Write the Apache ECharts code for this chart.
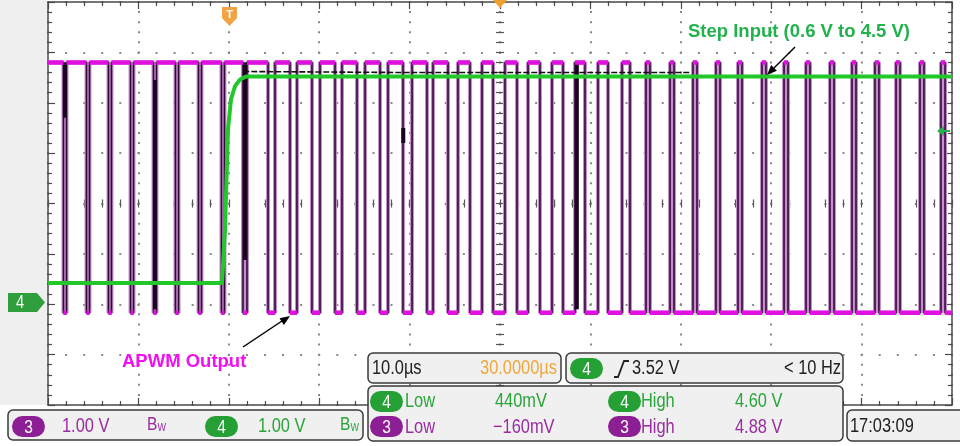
<!DOCTYPE html>
<html><head><meta charset="utf-8">
<script src="https://cdn.jsdelivr.net/npm/echarts@6/dist/echarts.min.js"></script>
<style>html,body{margin:0;padding:0;background:#fff;}#c{width:960px;height:446px;}</style>
</head><body><div id="c"></div>
<script>
// ---- scales (oscilloscope graticule: 10 µs/div, 1 V/div) ----
const timeMin = 0, timeMax = 100, timeDiv = 10;   // µs
const voltMin = -2, voltMax = 6, voltDiv = 1;      // V

// ---- channel 3 : APWM output (levels and toggle times in µs, starting high) ----
const pwmHigh = 4.8, pwmLow = -0.17;
const pwmEdges = [1.71, 2.05, 4.26, 4.59, 6.69, 7.02, 9.13, 9.46, 11.67, 12.00, 14.10, 14.44,
  16.65, 16.98, 19.19, 19.52, 21.57, 22.01, 24.34, 25.11, 26.77, 27.54, 29.20, 30.09,
  31.75, 32.52, 34.18, 35.07, 36.73, 37.61, 39.27, 40.27, 41.92, 42.59, 44.25, 45.35,
  46.68, 48.01, 49.23, 50.55, 51.88, 53.10, 54.42, 55.75, 56.97, 58.30, 59.40, 60.84,
  61.95, 63.50, 64.38, 66.15, 66.59, 68.81, 69.25, 71.35, 71.79, 73.89, 74.34, 76.33,
  76.77, 78.98, 79.42, 81.42, 81.86, 83.85, 84.29, 86.50, 86.95, 88.94, 89.38, 91.48,
  91.92, 93.81, 94.25, 96.46, 96.90, 98.78, 99.23];

// ---- channel 4 : step input ----
const stepTime = [0, 19.25, 19.58, 19.91, 20.24, 20.69, 21.24, 21.9, 100];
const stepVolt = [0.42, 0.42, 1.49, 3.47, 4.07, 4.33, 4.46, 4.52, 4.52];

// ---- persistence (earlier acquisition) traces ----
const ghostTime = [21.6, 40, 71];
const ghostVolt = [4.62, 4.6, 4.6];
const burstTime = [1.88, 11.84, 21.8, 39.3, 58.5];
const burstTop = [4.8, 4.45, 4.8, 3.5, 4.8];
const burstBottom = [3.7, -0.1, 0.88, 3.2, -0.1];

// ---- build series data ----
const pwmPts = [[timeMin, pwmHigh]], pwmLevels = [];
let lvl = pwmHigh, segStart = timeMin;
pwmEdges.forEach(t => {
  pwmPts.push([t, lvl]);
  pwmLevels.push([segStart, lvl], [t, lvl], [t, '-']);
  lvl = (lvl === pwmHigh) ? pwmLow : pwmHigh;
  pwmPts.push([t, lvl]);
  segStart = t;
});
pwmPts.push([timeMax, lvl]);
pwmLevels.push([segStart, lvl], [timeMax, lvl]);
const stepPts = stepTime.map((t, i) => [t, stepVolt[i]]);
const ghostPts = ghostTime.map((t, i) => [t, ghostVolt[i]]);
const burstPts = [];
burstTime.forEach((t, i) => { burstPts.push([t, burstTop[i]], [t, burstBottom[i]], [t, '-']); });

const SANS = '"Liberation Sans",Arial,sans-serif';
const NX = 0.82; // horizontal squeeze to mimic the scope's narrow UI font
const ZT = 60;   // overlays sit above the graticule and traces
const BORDER = '#4a4a4a', DOT = '#8a8a8a';
const PURPLE = '#9a2ca2', GREEN = '#2aa53a', PILLP = '#8c1f94', PILLG = '#24a034', ORANGE = '#f0a83a';

const xr = { type: 'value', min: timeMin, max: timeMax, interval: timeDiv };
const yr = { type: 'value', min: voltMin, max: voltMax, interval: voltDiv };
const noLbl = { show: false };
function borderAxis(base, pos, grid, split, dashSeg) {
  return Object.assign({}, base, {
    gridIndex: grid, position: pos,
    axisLine: { show: true, onZero: false, lineStyle: { color: BORDER, width: 1.5 } },
    axisTick: { show: true, inside: true, length: 7, lineStyle: { color: BORDER, width: 1.2 } },
    minorTick: { show: true, splitNumber: 5, length: 4, lineStyle: { color: BORDER, width: 1.2 } },
    axisLabel: noLbl,
    splitLine: split ? { show: true, lineStyle: { color: DOT, width: 2, type: dashSeg, dashOffset: 1 } } : { show: false }
  });
}
function centerAxis(base, pos, grid) {
  return Object.assign({}, base, {
    gridIndex: grid, position: pos,
    axisLine: { show: false, onZero: false },
    axisTick: { show: true, inside: true, length: 4, lineStyle: { color: '#555', width: 1.2 } },
    minorTick: { show: true, splitNumber: 5, length: 4, lineStyle: { color: '#555', width: 1.2 } },
    axisLabel: noLbl, splitLine: { show: false }
  });
}
function hiddenAxis(base, grid) { return Object.assign({}, base, { gridIndex: grid, show: false, axisLine: { onZero: false } }); }

const pill = (x, y, w, h, color, label) => ([
  { type: 'rect', z: ZT + 1, shape: { x, y, width: w, height: h, r: h / 2 }, style: { fill: color } },
  { type: 'text', z: ZT + 2, x: x + w / 2, y: y + h / 2 + 1, scaleX: NX, style: { text: label, fill: '#fff', fontSize: 19, fontFamily: SANS, align: 'center', verticalAlign: 'middle' } }
]);
const txt = (x, y, s, color, extra) => ({ type: 'text', z: ZT + 2, x, y, scaleX: NX, style: Object.assign({ text: s, fill: color, fontSize: 20, fontFamily: SANS, verticalAlign: 'middle' }, extra || {}) });
const box = (x, y, w, h) => ({ type: 'rect', z: ZT, shape: { x, y, width: w, height: h, r: 5 }, style: { fill: '#f0f0f0', stroke: '#3a3a3a', lineWidth: 1.5 } });
const bw = (x, y, color) => ({ type: 'text', z: ZT + 2, x, y, scaleX: NX, style: { text: '{b|B}{w|W}', fill: color, verticalAlign: 'middle', rich: { b: { fontSize: 19, fontFamily: SANS, fill: color }, w: { fontSize: 11, fontFamily: SANS, fill: color, padding: [6, 0, 0, 0] } } } });

const chart = echarts.init(document.getElementById('c'), null, { renderer: 'canvas' });
chart.setOption({
  animation: false,
  backgroundColor: '#ffffff',
  grid: [
    { left: 48, top: 2, width: 904, height: 403 },
    { left: 48, top: 2, width: 452, height: 403 },
    { left: 500, top: 2, width: 452, height: 403 },
    { left: 48, top: 2, width: 904, height: 201.5 },
    { left: 48, top: 203.5, width: 904, height: 201.5 }
  ],
  xAxis: [
    borderAxis(xr, 'bottom', 0, true, [2, 8.075]),
    borderAxis(xr, 'top', 0, false),
    hiddenAxis(xr, 1),
    hiddenAxis(xr, 2),
    centerAxis(xr, 'bottom', 3),
    centerAxis(xr, 'top', 4)
  ],
  yAxis: [
    borderAxis(yr, 'left', 0, true, [2, 16.08]),
    borderAxis(yr, 'right', 0, false),
    centerAxis(yr, 'right', 1),
    centerAxis(yr, 'left', 2),
    hiddenAxis(yr, 3),
    hiddenAxis(yr, 4)
  ],
  series: [
    { type: 'line', name: 'APWM halo', data: pwmPts, symbol: 'none', silent: true, z: 2, lineStyle: { color: '#c28ec8', width: 4 } },
    { type: 'line', name: 'APWM Output', data: pwmPts, symbol: 'none', silent: true, z: 3, lineStyle: { color: '#35083c', width: 1.6 } },
    { type: 'line', name: 'burst', data: burstPts, symbol: 'none', silent: true, z: 4, connectNulls: false, lineStyle: { color: '#1a0420', width: 4 } },
    { type: 'line', name: 'APWM levels', data: pwmLevels, symbol: 'none', silent: true, z: 5, connectNulls: false, lineStyle: { color: '#e010e0', width: 4.5, cap: 'butt' } },
    { type: 'line', name: 'ghost', data: ghostPts, symbol: 'none', silent: true, z: 6, lineStyle: { color: '#111', width: 1.6, type: [6, 2] } },
    { type: 'line', name: 'Step Input', data: stepPts, symbol: 'none', silent: true, z: 7, lineStyle: { color: '#22c82a', width: 4 } }
  ],
  graphic: [
    { type: 'rect', z: -10, shape: { x: 0, y: 0, width: 47, height: 405 }, style: { fill: '#efefef' } },
    // trigger position markers
    { type: 'polygon', z: ZT, shape: { points: [[222, 7], [237, 7], [237, 18], [229.5, 26], [222, 18]] }, style: { fill: '#f2a444' } },
    { type: 'text', z: ZT + 1, x: 229.5, y: 15, style: { text: 'T', fill: '#fff', fontSize: 11, fontWeight: 'bold', fontFamily: SANS, align: 'center', verticalAlign: 'middle' } },
    { type: 'polygon', z: ZT, shape: { points: [[493, 0], [507, 0], [500, 8]] }, style: { fill: '#f0a030' } },
    // channel 4 ground marker
    { type: 'polygon', z: ZT, shape: { points: [[8, 293], [37, 293], [45, 302.5], [37, 312], [8, 312]] }, style: { fill: '#2f9e3c' } },
    { type: 'text', z: ZT + 1, x: 20, y: 303, scaleX: NX, style: { text: '4', fill: '#fff', fontSize: 18, fontFamily: SANS, align: 'center', verticalAlign: 'middle' } },
    // trigger level marker
    { type: 'polygon', z: ZT, shape: { points: [[937, 131], [944, 126], [944, 136]] }, style: { fill: '#22b14c' } },
    { type: 'line', z: ZT, shape: { x1: 943, y1: 131, x2: 950, y2: 131 }, style: { stroke: '#22b14c', lineWidth: 2 } },
    // annotations
    { type: 'text', z: ZT, x: 688, y: 32, style: { text: 'Step Input (0.6 V to 4.5 V)', fill: '#22b14c', fontSize: 18.5, fontWeight: 'bold', fontFamily: SANS, verticalAlign: 'middle' } },
    { type: 'line', z: ZT, shape: { x1: 795, y1: 47, x2: 774, y2: 68 }, style: { stroke: '#000', lineWidth: 1.5 } },
    { type: 'polygon', z: ZT, shape: { points: [[767, 75], [776.9, 70.7], [771.2, 65.1]] }, style: { fill: '#000' } },
    { type: 'text', z: ZT, x: 122, y: 362, style: { text: 'APWM Output', fill: '#f010f0', fontSize: 18.5, fontWeight: 'bold', fontFamily: SANS, verticalAlign: 'middle' } },
    { type: 'line', z: ZT, shape: { x1: 243, y1: 347, x2: 282, y2: 321 }, style: { stroke: '#000', lineWidth: 1.5 } },
    { type: 'polygon', z: ZT, shape: { points: [[290, 316], [283.9, 324.9], [279.5, 318.2]] }, style: { fill: '#000' } },
    // status bar
    box(8, 410, 355, 30),
    ...pill(12, 416, 33, 21, PILLP, '3'),
    txt(62, 426, '1.00 V', PURPLE),
    bw(147, 425, PURPLE),
    ...pill(205, 416, 33, 21, PILLG, '4'),
    txt(258, 426, '1.00 V', GREEN),
    bw(340, 425, GREEN),
    box(368, 353, 193, 30),
    txt(372, 368, '10.0µs', '#222'),
    txt(557, 368, '30.0000µs', ORANGE, { align: 'right' }),
    box(566, 353, 277, 30),
    ...pill(570, 358, 33, 21, PILLG, '4'),
    { type: 'polyline', z: ZT + 2, shape: { points: [[614, 377], [618, 377], [624, 361], [629, 361]] }, style: { stroke: '#222', lineWidth: 1.8, fill: null } },
    txt(632, 368, '3.52 V', '#222'),
    txt(841, 368, '< 10 Hz', '#222', { align: 'right' }),
    box(368, 386, 475, 55),
    ...pill(370, 391, 33, 21, PILLG, '4'),
    txt(405, 401, 'Low', GREEN),
    txt(495, 401, '440mV', GREEN),
    ...pill(608, 391, 33, 21, PILLG, '4'),
    txt(641, 401, 'High', GREEN),
    txt(735, 401, '4.60 V', GREEN),
    ...pill(370, 416, 33, 21, PILLP, '3'),
    txt(405, 427, 'Low', PURPLE),
    txt(493, 427, '−160mV', PURPLE),
    ...pill(608, 416, 33, 21, PILLP, '3'),
    txt(641, 427, 'High', PURPLE),
    txt(735, 427, '4.88 V', PURPLE),
    box(847, 410, 120, 31),
    txt(850, 426, '17:03:09', '#222')
  ]
});
</script></body></html>
